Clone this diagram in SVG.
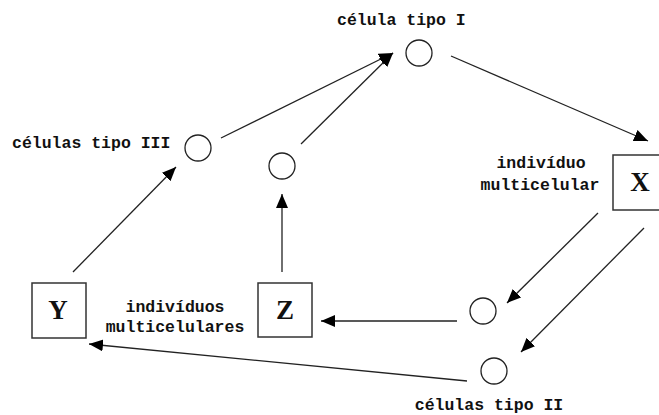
<svg xmlns="http://www.w3.org/2000/svg" width="659" height="415" viewBox="0 0 659 415">
<defs>
<marker id="ah" markerUnits="userSpaceOnUse" markerWidth="16" markerHeight="14" refX="14" refY="6" orient="auto">
<path d="M0,0 L14,6 L0,12 Z" fill="#000"/>
</marker>
<style>
.c{fill:#fff;stroke:#222;stroke-width:1.3}
.b{fill:#fff;stroke:#333;stroke-width:1.5}
.t{font-family:"Liberation Mono","Courier New",monospace;font-weight:bold;font-size:16.5px;fill:#111}
.L{font-family:"Liberation Serif","Times New Roman",serif;font-weight:bold;font-size:27px;fill:#111;text-anchor:middle}
.e{fill:none;stroke:#222;stroke-width:1.3;marker-end:url(#ah)}
</style>
</defs>
<rect width="659" height="415" fill="#fff"/>
<g id="connectors">
<path class="e" d="M73,272 L176,167"/>
<path class="e" d="M221,138 L393,53"/>
<path class="e" d="M301,144 L393,53"/>
<path class="e" d="M451,56 L648,141"/>
<path class="e" d="M282,272 L282,194"/>
<path class="e" d="M598,213 L507,303"/>
<path class="e" d="M644,228 L521,352"/>
<path class="e" d="M457,321 L321,321"/>
<path class="e" d="M467,381 L89,344"/>
</g>
<g id="cell-I">
<circle class="c" cx="419" cy="53" r="13"/>
<text class="t" x="337" y="25">célula tipo I</text>
</g>
<g id="cells-III">
<circle class="c" cx="198" cy="148" r="13"/>
<text class="t" x="12" y="148">células tipo III</text>
</g>
<g id="cell-mid">
<circle class="c" cx="282" cy="166" r="13"/>
</g>
<g id="cell-lower-left">
<circle class="c" cx="483" cy="311" r="13"/>
</g>
<g id="cells-II">
<circle class="c" cx="494" cy="371" r="13"/>
<text class="t" x="489" y="410" text-anchor="middle">células tipo II</text>
</g>
<g id="X">
<rect class="b" x="613" y="155" width="54" height="55"/>
<text class="L" x="640" y="191">X</text>
<text class="t" x="541" y="168" text-anchor="middle">indivíduo</text>
<text class="t" x="540" y="190" text-anchor="middle">multicelular</text>
</g>
<g id="Y">
<rect class="b" x="32" y="283" width="54" height="55"/>
<text class="L" x="58" y="319">Y</text>
</g>
<g id="Z">
<rect class="b" x="258" y="283" width="54" height="54"/>
<text class="L" x="285" y="319">Z</text>
<text class="t" x="175" y="312" text-anchor="middle">indivíduos</text>
<text class="t" x="175" y="332" text-anchor="middle">multicelulares</text>
</g>
</svg>
